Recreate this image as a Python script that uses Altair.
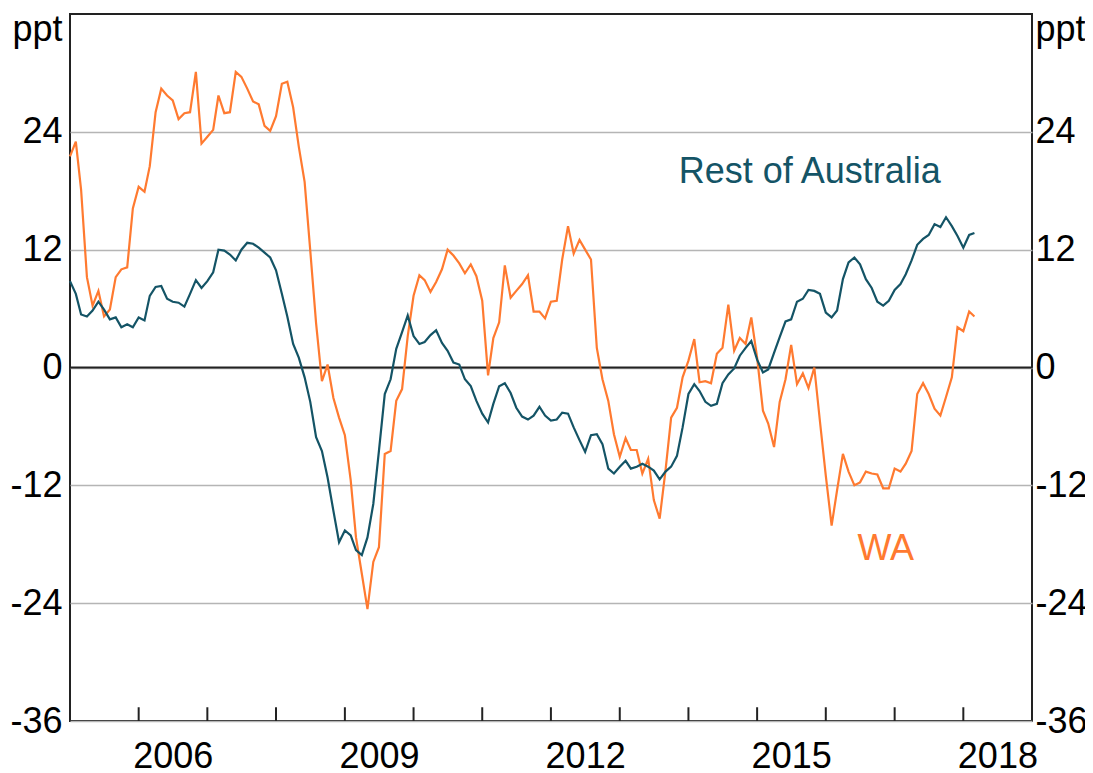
import altair as alt
import pandas as pd

# Monthly observations, Jan 2005 - Mar 2018 (ppt)
wa = [21.5, 23.0, 18.1, 9.2, 6.3, 7.8, 5.2, 5.9, 9.2, 10.0, 10.2, 16.2,
      18.4, 17.9, 20.5, 26.0, 28.4, 27.7, 27.2, 25.3, 25.9, 26.0, 30.1, 22.8,
      23.5, 24.2, 27.7, 25.9, 26.0, 30.1, 29.6, 28.4, 27.1, 26.8, 24.6, 24.1,
      25.6, 28.9, 29.1, 26.5, 22.5, 18.9, 11.9, 4.5, -1.4, 0.3, -3.1, -5.1,
      -6.9, -11.5, -17.3, -21.0, -24.6, -19.8, -18.3, -8.8, -8.5, -3.4, -2.2, 3.2,
      7.3, 9.4, 8.9, 7.7, 8.7, 10.0, 12.0, 11.4, 10.6, 9.6, 10.5, 9.3,
      6.8, -0.8, 3.0, 4.6, 10.4, 7.1, 7.8, 8.5, 9.4, 5.7, 5.7, 5.0,
      6.7, 6.8, 11.0, 14.4, 11.6, 13.0, 12.0, 11.0, 2.0, -1.2, -3.4, -6.8,
      -9.1, -7.2, -8.4, -8.4, -10.8, -9.3, -13.5, -15.4, -10.5, -5.1, -4.1, -1.0,
      0.7, 2.9, -1.5, -1.4, -1.6, 1.4, 2.0, 6.4, 1.7, 3.0, 2.4, 5.1,
      1.0, -4.4, -5.7, -8.1, -3.5, -1.2, 2.3, -1.7, -0.6, -2.1, 0.0, -5.5,
      -11.0, -16.1, -12.5, -8.8, -10.6, -12.0, -11.7, -10.6, -10.8, -10.9, -12.3, -12.3,
      -10.3, -10.6, -9.8, -8.5, -2.7, -1.6, -2.7, -4.2, -4.9, -3.0, -1.0, 4.1,
      3.7, 5.7, 5.2]

rest_of_australia = [8.8, 7.5, 5.4, 5.2, 5.8, 6.7, 5.9, 4.9, 5.1, 4.1, 4.4, 4.1,
      5.1, 4.8, 7.3, 8.2, 8.3, 7.0, 6.7, 6.6, 6.2, 7.5, 8.9, 8.1,
      8.8, 9.7, 12.0, 11.9, 11.5, 10.9, 12.0, 12.7, 12.6, 12.2, 11.7, 11.2,
      9.9, 7.5, 5.2, 2.4, 1.0, -1.0, -3.5, -7.1, -8.5, -11.2, -14.6, -17.8,
      -16.6, -17.1, -18.6, -19.1, -17.3, -13.9, -8.5, -2.7, -1.2, 1.9, 3.6, 5.3,
      3.2, 2.4, 2.6, 3.3, 3.8, 2.5, 1.7, 0.5, 0.3, -1.2, -1.9, -3.4,
      -4.7, -5.6, -3.7, -1.9, -1.6, -2.6, -4.1, -5.0, -5.3, -4.9, -4.0, -4.9,
      -5.4, -5.3, -4.6, -4.7, -6.1, -7.4, -8.6, -6.9, -6.8, -7.8, -10.3, -10.8,
      -10.1, -9.5, -10.3, -10.1, -9.8, -10.1, -10.5, -11.4, -10.6, -10.1, -9.0, -6.1,
      -2.7, -1.7, -2.4, -3.5, -3.9, -3.7, -1.6, -0.7, -0.1, 1.2, 2.0, 2.7,
      0.8, -0.5, -0.2, 1.5, 3.1, 4.7, 4.9, 6.7, 7.0, 7.9, 7.8, 7.5,
      5.6, 5.1, 5.8, 9.0, 10.7, 11.2, 10.5, 9.0, 8.1, 6.7, 6.3, 6.8,
      7.9, 8.5, 9.5, 10.9, 12.5, 13.1, 13.5, 14.6, 14.3, 15.3, 14.4, 13.4,
      12.2, 13.5, 13.7]

months = pd.date_range("2005-01-01", periods=len(wa), freq="MS")

series_names = ["WA", "Rest of Australia"]
series_colors = ["#ff7a30", "#145466"]

y_ticks = [-36, -24, -12, 0, 12, 24]
label_years = [2006, 2009, 2012, 2015, 2018]
tick_years = list(range(2006, 2019))

# series label annotations
label_text = ["Rest of Australia", "WA"]
label_dates = ["2015-10-08", "2016-11-15"]
label_values = [19.9, -18.5]

FONT = "Liberation Sans"
FS = 36

df = pd.concat([
    pd.DataFrame({"date": months, "value": wa, "series": "WA"}),
    pd.DataFrame({"date": months, "value": rest_of_australia, "series": "Rest of Australia"}),
])
df_labels = pd.DataFrame({"date": pd.to_datetime(label_dates), "value": label_values,
                          "series": label_text})
df_ticks = pd.DataFrame({"date": pd.to_datetime([f"{y}-01-01" for y in tick_years]),
                         "value": -36, "value2": -34.6})
df_zero = pd.DataFrame({"value": [0]})

xscale = alt.Scale(domain=[alt.DateTime(year=2005, month=1, date=1),
                           alt.DateTime(year=2019, month=1, date=1)])
yscale = alt.Scale(domain=[-36, 36], nice=False)
cscale = alt.Scale(domain=series_names, range=series_colors)

x_axis = alt.Axis(values=[alt.DateTime(year=y, month=7, date=1) for y in label_years],
                  format="%Y", ticks=False, domain=False, grid=False, labelFlush=False,
                  labelPadding=18, title=None)

left_axis = alt.Axis(values=y_ticks, ticks=False, domain=False, grid=True,
                     gridColor="#b5b5b5", gridWidth=1.5, labelPadding=8,
                     labelExpr="'' + datum.value",
                     title="ppt", titleAngle=0, titleAlign="right", titleX=-8, titleY=26,
                     titleBaseline="alphabetic")
right_axis = alt.Axis(orient="right", values=y_ticks, ticks=False, domain=False, grid=False,
                      labelPadding=3, labelExpr="'' + datum.value",
                      title="ppt", titleAngle=0, titleAlign="left",
                      titleX=3, titleY=26, titleBaseline="alphabetic")

lines = alt.Chart(df).mark_line(strokeWidth=2.2).encode(
    x=alt.X("date:T", scale=xscale, axis=x_axis),
    y=alt.Y("value:Q", scale=yscale, axis=left_axis),
    color=alt.Color("series:N", scale=cscale, legend=None),
    detail="series:N",
)

texts = alt.Chart(df_labels).mark_text(fontSize=FS, font=FONT, align="center",
                                       baseline="middle").encode(
    x=alt.X("date:T", scale=xscale, axis=x_axis),
    y=alt.Y("value:Q", scale=yscale, axis=left_axis),
    text="series:N",
    color=alt.Color("series:N", scale=cscale, legend=None),
)

ticks = alt.Chart(df_ticks).mark_rule(color="#222222", strokeWidth=2).encode(
    x=alt.X("date:T", scale=xscale, axis=x_axis),
    y=alt.Y("value:Q", scale=yscale, axis=left_axis),
    y2="value2:Q",
)

inner = alt.layer(lines, texts, ticks)

zero = alt.Chart(df_zero).mark_rule(color="#222222", strokeWidth=2).encode(
    y=alt.Y("value:Q", scale=yscale, axis=right_axis),
)

chart = alt.layer(zero, inner).resolve_scale(y="independent").properties(
    width=962, height=707,
    padding={"left": 62, "top": 6, "right": 53, "bottom": 50},
    autosize=alt.AutoSizeParams(type="none"),
).configure_view(
    stroke="#222222", strokeWidth=2
).configure_axis(
    labelFont=FONT, labelFontSize=FS, labelColor="black",
    titleFont=FONT, titleFontSize=FS, titleColor="black", titleFontWeight="normal",
)

chart.save("out.html", embed_options={"renderer": "svg", "actions": False})
